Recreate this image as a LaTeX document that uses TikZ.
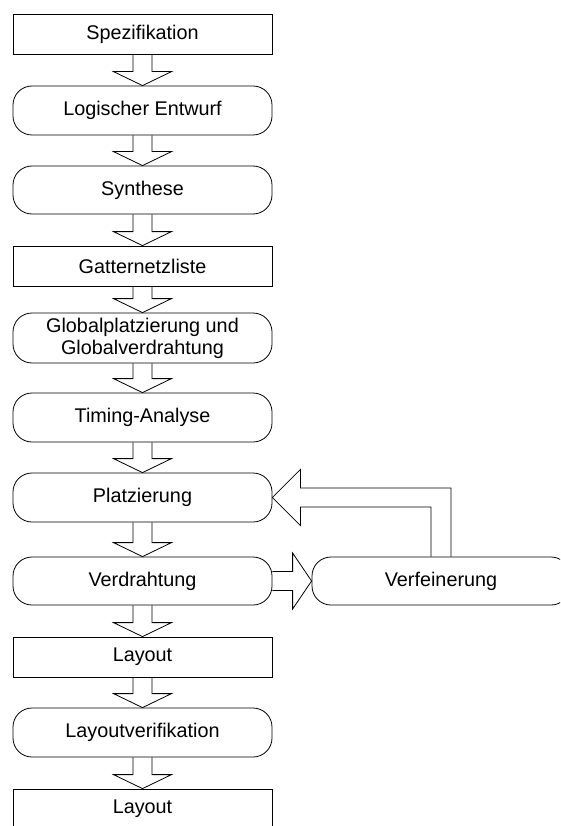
\documentclass[tikz,border=0pt]{standalone}
\usepackage{fontspec}
\setmainfont{Liberation Sans}
\usetikzlibrary{calc}

% hollow block arrow pointing down from the bottom of #1 to the top of #2
\newcommand\flowdown[2]{%
  \draw[blockarrow] ($(#1.south)+(-9.5,0)$) -- ($(#2.north)+(-9.5,-14)$)
    -- ($(#2.north)+(-29,-14)$) -- (#2.north) -- ($(#2.north)+(29,-14)$)
    -- ($(#2.north)+(9.5,-14)$) -- ($(#1.south)+(9.5,0)$);}

\begin{document}
\begin{tikzpicture}[x=1pt,y=-1pt,
  stage/.style={draw, line width=0.8pt, minimum width=259pt, minimum height=40pt,
    inner sep=0pt, align=center, font=\fontsize{19.8}{22}\selectfont},
  roundstage/.style={stage, rounded corners=19pt, minimum height=49pt},
  blockarrow/.style={draw, line width=0.8pt, line join=miter}]
\useasboundingbox (0,0) rectangle (560,826);
\clip (0,0) rectangle (560,826);

% main flow
\node[stage]      (spez)   at (142.5,34)    {Spezifikation};
\node[roundstage] (logik)  at (142.5,110.5) {Logischer Entwurf};
\node[roundstage, minimum height=48pt] (synth) at (142.5,190) {Synthese};
\node[stage]      (gatter) at (142.5,266)   {Gatternetzliste};
\node[roundstage, minimum height=50pt] (global) at (142.5,338)
      {Globalplatzierung und\\Globalverdrahtung};
\node[roundstage] (timing) at (142.5,417.5) {Timing-Analyse};
\node[roundstage] (platz)  at (142.5,497.5) {Platzierung};
\node[roundstage, minimum height=48pt] (verd) at (142.5,581) {Verdrahtung};
\node[stage]      (lay1)   at (142.5,657)   {Layout};
\node[roundstage] (verif)  at (142.5,732.5) {Layoutverifikation};
\node[stage]      (lay2)   at (142.5,809)   {Layout};

% refinement step on the side
\node[roundstage, minimum height=48pt, minimum width=258pt] (verf) at (441,581) {Verfeinerung};

% downward arrows
\flowdown{spez}{logik}
\flowdown{logik}{synth}
\flowdown{synth}{gatter}
\flowdown{gatter}{global}
\flowdown{global}{timing}
\flowdown{timing}{platz}
\flowdown{platz}{verd}
\flowdown{verd}{lay1}
\flowdown{lay1}{verif}
\flowdown{verif}{lay2}

% wiring -> refinement
\draw[blockarrow] ($(verd.east)+(0,-9.5)$) -- ($(verf.west)+(-19,-9.5)$)
  -- ($(verf.west)+(-19,-28)$) -- (verf.west) -- ($(verf.west)+(-19,28)$)
  -- ($(verf.west)+(-19,9.5)$) -- ($(verd.east)+(0,9.5)$);

% refinement -> placement (feedback loop)
\draw[blockarrow] ($(verf.north)+(-10,0)$) |- ($(platz.east)+(28,9.5)$)
  -- ($(platz.east)+(28,28)$) -- (platz.east) -- ($(platz.east)+(28,-28)$)
  -- ($(platz.east)+(28,-9.5)$) -| ($(verf.north)+(10,0)$);
\end{tikzpicture}
\end{document}
